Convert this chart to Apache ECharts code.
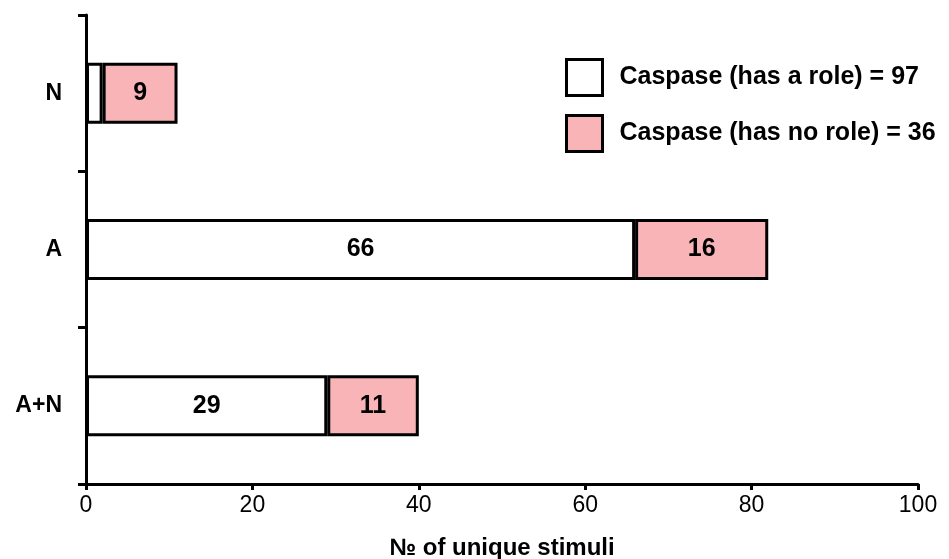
<!DOCTYPE html>
<html>
<head>
<meta charset="utf-8">
<script src="https://cdn.jsdelivr.net/npm/echarts@6/dist/echarts.min.js"></script>
<style>html,body{margin:0;padding:0;background:#fff}#c{width:949px;height:559px}</style>
</head>
<body>
<div id="c"></div>
<script>
const categories = ['N', 'A', 'A+N'];
const hasRole = [2, 66, 29];
const noRole = [9, 16, 11];
const xTicks = [0, 20, 40, 60, 80, 100];

const sum = a => a.reduce((s, v) => s + v, 0);
const FONT = 'Liberation Sans, Arial, sans-serif';

const chart = echarts.init(document.getElementById('c'));
const labelCfg = {
  show: true, position: 'inside', color: '#000', fontFamily: FONT,
  fontWeight: 'bold', fontSize: 25,
  formatter: p => (p.value < 4 ? '' : p.value)
};
chart.setOption({
  animation: false,
  backgroundColor: '#fff',
  grid: { left: 86, right: 31, top: 15, bottom: 75, containLabel: false, outerBoundsMode: 'none' },
  legend: {
    orient: 'vertical', left: 560, top: 53, itemWidth: 36, itemHeight: 36,
    itemGap: 17, icon: 'rect',
    itemStyle: { borderWidth: 3, borderColor: '#000' },
    textStyle: { fontFamily: FONT, fontWeight: 'bold', fontSize: 25, color: '#000', padding: [0, 0, 0, 12] },
    data: ['Caspase (has a role) = ' + sum(hasRole), 'Caspase (has no role) = ' + sum(noRole)]
  },
  xAxis: {
    type: 'value', min: xTicks[0], max: xTicks[xTicks.length - 1], interval: 20,
    splitLine: { show: false },
    axisLine: { show: true, lineStyle: { color: '#000', width: 3 } },
    axisTick: { show: true, length: 6, lineStyle: { color: '#000', width: 3 } },
    axisLabel: { fontFamily: FONT, fontSize: 23, color: '#000', margin: 10 },
    name: '№ of unique stimuli', nameLocation: 'middle', nameGap: 52,
    nameTextStyle: { fontFamily: FONT, fontWeight: 'bold', fontSize: 24, color: '#000' }
  },
  yAxis: {
    type: 'category', data: categories, inverse: true,
    axisLine: { show: true, lineStyle: { color: '#000', width: 3 } },
    axisTick: { show: true, length: 8, lineStyle: { color: '#000', width: 3 } },
    axisLabel: { fontFamily: FONT, fontWeight: 'bold', fontSize: 23, color: '#000', margin: 24 }
  },
  series: [
    {
      name: 'Caspase (has a role) = ' + sum(hasRole), type: 'bar', stack: 's', data: hasRole,
      barWidth: 61,
      itemStyle: { color: '#ffffff', borderColor: '#000', borderWidth: 3 },
      label: labelCfg
    },
    {
      name: 'Caspase (has no role) = ' + sum(noRole), type: 'bar', stack: 's', data: noRole,
      barWidth: 61,
      itemStyle: { color: '#f8b4b6', borderColor: '#000', borderWidth: 3 },
      label: labelCfg
    }
  ]
});
</script>
</body>
</html>
